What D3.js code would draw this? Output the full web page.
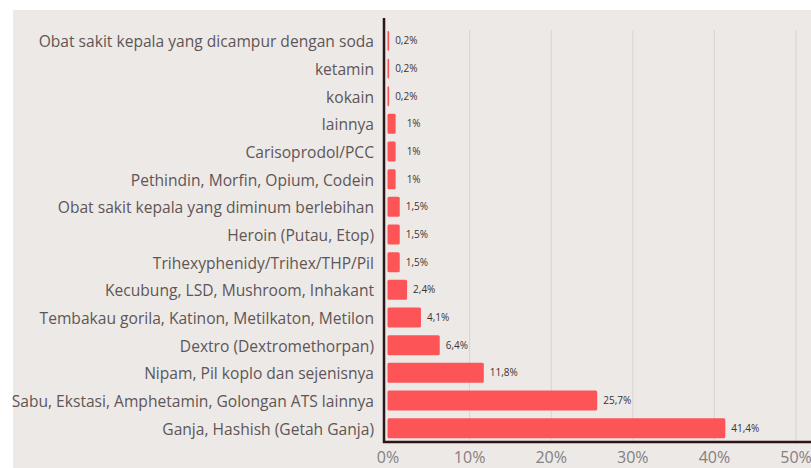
<!DOCTYPE html>
<html>
<head>
<meta charset="utf-8">
<script src="https://cdn.jsdelivr.net/npm/d3@7"></script>
<style>
  body { margin: 0; background: #fff; }
  svg { display: block; }
</style>
</head>
<body>
<div id="chart"></div>
<script>
// data
var kategori = [
  "Obat sakit kepala yang dicampur dengan soda",
  "ketamin",
  "kokain",
  "lainnya",
  "Carisoprodol/PCC",
  "Pethindin, Morfin, Opium, Codein",
  "Obat sakit kepala yang diminum berlebihan",
  "Heroin (Putau, Etop)",
  "Trihexyphenidy/Trihex/THP/Pil",
  "Kecubung, LSD, Mushroom, Inhakant",
  "Tembakau gorila, Katinon, Metilkaton, Metilon",
  "Dextro (Dextromethorpan)",
  "Nipam, Pil koplo dan sejenisnya",
  "Sabu, Ekstasi, Amphetamin, Golongan ATS lainnya",
  "Ganja, Hashish (Getah Ganja)"
];
var persen = [0.2, 0.2, 0.2, 1, 1, 1, 1.5, 1.5, 1.5, 2.4, 4.1, 6.4, 11.8, 25.7, 41.4];
var labelNilai = ["0,2%", "0,2%", "0,2%", "1%", "1%", "1%", "1,5%", "1,5%", "1,5%", "2,4%", "4,1%", "6,4%", "11,8%", "25,7%", "41,4%"];
var ticks = [0, 10, 20, 30, 40, 50];

var svgWidth = 811, svgHeight = 468;

var svg = d3.select("#chart").append("svg")
  .attr("width", svgWidth)
  .attr("height", svgHeight);

// fundo
svg.append("rect")
  .attr("x", 13).attr("y", 10)
  .attr("width", svgWidth - 13).attr("height", svgHeight - 10)
  .attr("fill", "#ede9e7");

var x = d3.scaleLinear()
  .domain([0, 50])
  .range([387.5, 795.5]);

var y = d3.scaleBand()
  .domain(kategori)
  .range([27, 442])
  .paddingInner(0.28)
  .paddingOuter(0.14);

// grid + ticks
var gx = svg.append("g")
  .attr("transform", "translate(0,442)")
  .call(d3.axisBottom(x)
    .tickValues(ticks)
    .tickSize(-412)
    .tickFormat(d => d + "%"));

gx.select(".domain").remove();
gx.selectAll(".tick line")
  .attr("stroke", "#d8d4d2")
  .attr("stroke-width", 1)
  .filter(d => d === 0).remove();
gx.selectAll(".tick text")
  .attr("y", 10)
  .attr("fill", "#857f7f")
  .style("font-family", "'Open Sans', sans-serif")
  .style("font-size", "16px");

// barras
svg.append("g").selectAll("rect")
  .data(persen)
  .enter()
  .append("rect")
  .attr("x", x(0))
  .attr("y", (d, i) => y(kategori[i]))
  .attr("width", d => x(d) - x(0))
  .attr("height", y.bandwidth())
  .attr("rx", 1.5)
  .attr("fill", "#fd5457");

// valores
svg.append("g").selectAll("text")
  .data(persen)
  .enter()
  .append("text")
  .attr("x", d => x(d) + (d === 1 ? 11 : 6))
  .attr("y", (d, i) => y(kategori[i]) + y.bandwidth() / 2)
  .attr("dy", "0.35em")
  .attr("fill", "#3a3333")
  .style("font-family", "'Open Sans', sans-serif")
  .style("font-size", "10px")
  .text((d, i) => labelNilai[i]);

// categorias
svg.append("g").selectAll("text")
  .data(kategori)
  .enter()
  .append("text")
  .attr("x", 374)
  .attr("y", d => y(d) + y.bandwidth() / 2 + 1)
  .attr("dy", "0.35em")
  .attr("text-anchor", "end")
  .attr("fill", "#5e5656")
  .style("font-family", "'Open Sans', sans-serif")
  .style("font-size", "15.6px")
  .text(d => d);

// eixos
svg.append("path")
  .attr("fill", "none")
  .attr("stroke", "#2a1517")
  .attr("stroke-width", 2.5)
  .attr("d", "M 384 18 L 384 442 L 811 442");
</script>
</body>
</html>
